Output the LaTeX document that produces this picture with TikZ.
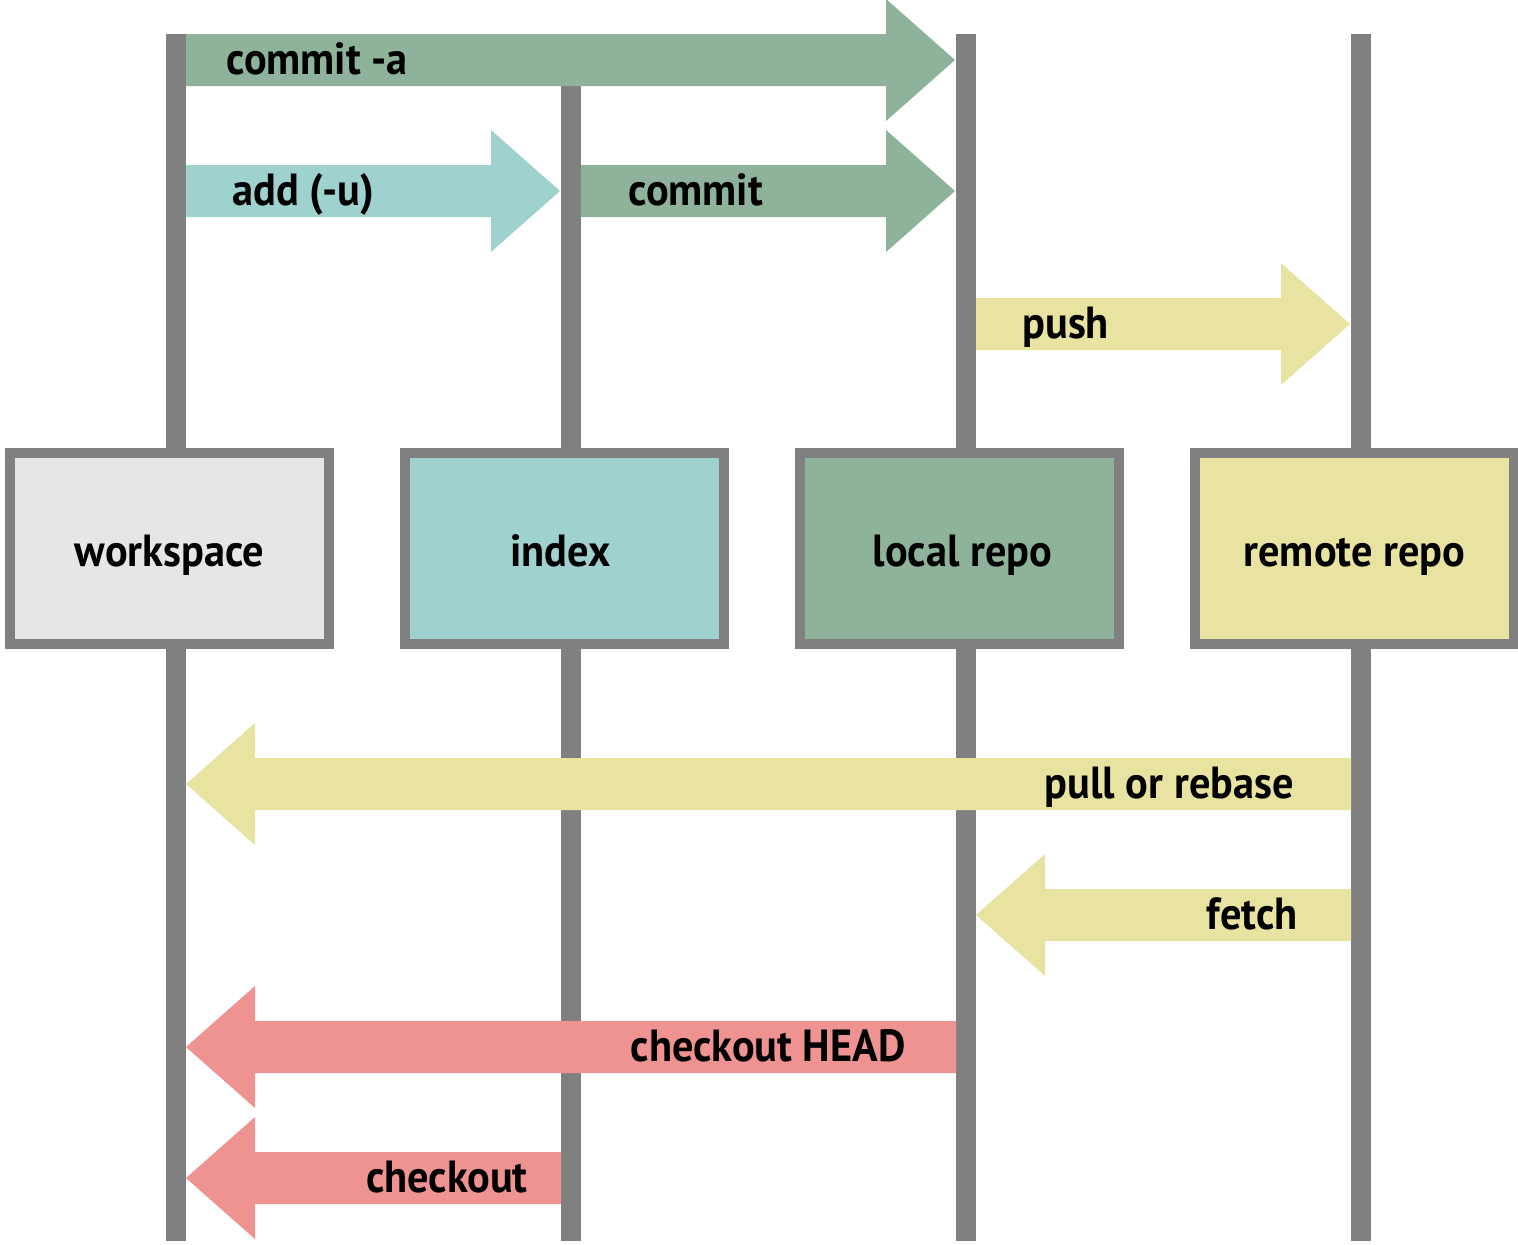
\documentclass[tikz,border=0pt]{standalone}
\usepackage{fontspec}
\usetikzlibrary{calc}
\newfontfamily\lblfont[FakeStretch=0.94]{PT Sans}
\definecolor{gline}{HTML}{808080}
\definecolor{cgreen}{HTML}{8FB29A}
\definecolor{ccyan}{HTML}{9FD1CF}
\definecolor{cyellow}{HTML}{E8E3A0}
\definecolor{cpink}{HTML}{EF9292}
\definecolor{cws}{HTML}{E6E6E6}
\newcommand\bigrarrow[3]{\fill[#3] let \p1=(#1), \p2=(#2) in (\x1,\y1+13pt) -- (\x2-34.5pt,\y1+13pt) -- (\x2-34.5pt,\y1+30.5pt) -- (\x2,\y1) -- (\x2-34.5pt,\y1-30.5pt) -- (\x2-34.5pt,\y1-13pt) -- (\x1,\y1-13pt) -- cycle;}
\newcommand\biglarrow[3]{\fill[#3] let \p1=(#1), \p2=(#2) in (\x1,\y1+13pt) -- (\x2+34.5pt,\y1+13pt) -- (\x2+34.5pt,\y1+30.5pt) -- (\x2,\y1) -- (\x2+34.5pt,\y1-30.5pt) -- (\x2+34.5pt,\y1-13pt) -- (\x1,\y1-13pt) -- cycle;}
\tikzset{
  lifeline/.style={draw=gline, line width=10pt},
  box/.style={draw=gline, line width=5pt, minimum width=159.5pt, minimum height=95.5pt, inner sep=0pt, text height=20pt, text depth=2.5pt, font=\lblfont\bfseries\fontsize{22.5pt}{27pt}\selectfont},
  lbl/.style={inner sep=0pt, font=\lblfont\bfseries\fontsize{22.5pt}{27pt}\selectfont}
}
\begin{document}
\begin{tikzpicture}[x=0.5pt,y=-0.5pt]
\useasboundingbox (0,0) rectangle (1518,1244);
% lifelines
\coordinate (wsT) at (176,34);  \coordinate (wsB) at (176,1241);
\coordinate (ixT) at (571,34);  \coordinate (ixB) at (571,1241);
\coordinate (lrT) at (966,34);  \coordinate (lrB) at (966,1241);
\coordinate (rrT) at (1361,34); \coordinate (rrB) at (1361,1241);
\draw[lifeline] (wsT) -- (wsB);
\draw[lifeline] (ixT) -- (ixB);
\draw[lifeline] (lrT) -- (lrB);
\draw[lifeline] (rrT) -- (rrB);
% boxes
\node[box, fill=cws] (ws) at (169.5,548.5) {workspace};
\node[box, fill=ccyan] (ix) at (564.5,548.5) {\hspace*{-4pt}index};
\node[box, fill=cgreen] (lr) at (959.5,548.5) {\hspace*{3pt}local repo};
\node[box, fill=cyellow] (rr) at (1354.5,548.5) {remote repo};
% arrow end points
\coordinate (ca1) at (186,60);   \coordinate (ca2) at (955,60);
\coordinate (ad1) at (186,191);  \coordinate (ad2) at (560,191);
\coordinate (cm1) at (581,191);  \coordinate (cm2) at (955,191);
\coordinate (pu1) at (976,324);  \coordinate (pu2) at (1350,324);
\coordinate (pl1) at (1351,784); \coordinate (pl2) at (186,784);
\coordinate (fe1) at (1351,915); \coordinate (fe2) at (976,915);
\coordinate (ch1) at (956,1047); \coordinate (ch2) at (186,1047);
\coordinate (co1) at (561,1178); \coordinate (co2) at (186,1178);
% arrows
\bigrarrow{ca1}{ca2}{cgreen}
\bigrarrow{ad1}{ad2}{ccyan}
\bigrarrow{cm1}{cm2}{cgreen}
\bigrarrow{pu1}{pu2}{cyellow}
\biglarrow{pl1}{pl2}{cyellow}
\biglarrow{fe1}{fe2}{cyellow}
\biglarrow{ch1}{ch2}{cpink}
\biglarrow{co1}{co2}{cpink}
% labels
\node[lbl, anchor=base west] (lca) at (226,74) {commit -a};
\node[lbl, anchor=base west] (lad) at (232,205) {add (-u)};
\node[lbl, anchor=base west] (lcm) at (628,205) {commit};
\node[lbl, anchor=base west] (lpu) at (1022,338) {push};
\node[lbl, anchor=base east] (lpl) at (1294,798) {pull or rebase};
\node[lbl, anchor=base east] (lfe) at (1298,929) {fetch};
\node[lbl, anchor=base east] (lch) at (906,1061) {checkout HEAD};
\node[lbl, anchor=base east] (lco) at (528,1192) {checkout};
\end{tikzpicture}
\end{document}
